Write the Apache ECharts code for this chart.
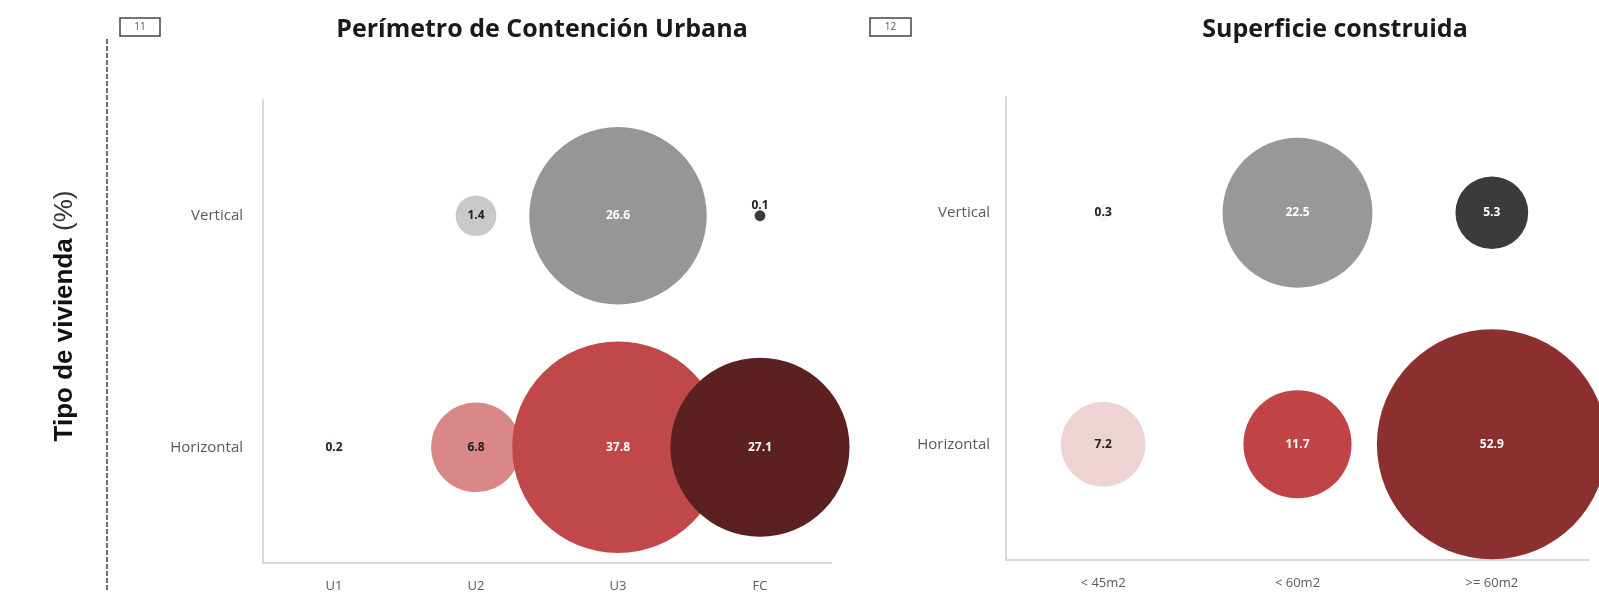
<!DOCTYPE html>
<html>
<head>
<meta charset="utf-8">
<script src="https://cdn.jsdelivr.net/npm/echarts@6/dist/echarts.min.js"></script>
<style>
  html, body { margin: 0; padding: 0; background: #fff; }
  #chart { width: 1599px; height: 597px; }
</style>
</head>
<body>
<div id="chart"></div>
<script>
// Row categories (bottom to top) shared by both panels
const tipoCategories = ['Horizontal', 'Vertical'];

// Panel 11: Perímetro de Contención Urbana
const pcuCategories = ['U1', 'U2', 'U3', 'FC'];
const pcuVertical   = [null, 1.4, 26.6, 0.1];
const pcuHorizontal = [0.2, 6.8, 37.8, 27.1];

// Panel 12: Superficie construida
const supCategories = ['< 45m2', '< 60m2', '>= 60m2'];
const supVertical   = [0.3, 22.5, 5.3];
const supHorizontal = [7.2, 11.7, 52.9];

// Fill colours per bubble
const pcuVerticalColors   = ['#f4f4f4', '#c9c9c9', '#969696', '#3b3b3b'];
const pcuHorizontalColors = ['#fbeeee', '#d98787', '#c0484a', '#5c2021'];
const supVerticalColors   = ['#f6f6f6', '#989898', '#3b3b3b'];
const supHorizontalColors = ['#efd2d4', '#c04446', '#8c2f2f'];
const pcuVerticalText     = ['#222', '#222', '#fff', '#222'];
const pcuHorizontalText   = ['#222', '#222', '#fff', '#fff'];
const supVerticalText     = ['#222', '#fff', '#fff'];
const supHorizontalText   = ['#222', '#fff', '#fff'];

const FONT = '"Open Sans", "Liberation Sans", sans-serif';

function rowData(values, rowIndex) {
  const out = [];
  values.forEach((v, i) => { if (v != null) out.push([i, rowIndex, v]); });
  return out;
}

function bubbleSeries(values, rowIndex, colors, textColors, gridIdx, scale) {
  const idx = [];
  values.forEach((v, i) => { if (v != null) idx.push(i); });
  return {
    type: 'scatter',
    xAxisIndex: gridIdx,
    yAxisIndex: gridIdx,
    clip: false,
    data: rowData(values, rowIndex).map((d, k) => {
      const i = idx[k];
      const tiny = d[2] < 0.15;
      return {
        value: d,
        itemStyle: { color: colors[i], opacity: 1 },
        label: {
          color: textColors[i],
          position: tiny ? 'top' : 'inside',
          distance: tiny ? -1 : 5
        }
      };
    }),
    symbolSize: d => 2 * scale * Math.sqrt(d[2]),
    label: {
      show: true,
      formatter: p => p.value[2].toFixed(1),
      fontFamily: FONT,
      fontWeight: 'bold',
      fontSize: 12
    },
    emphasis: { disabled: true },
    silent: true
  };
}

const axisLine = { show: true, lineStyle: { color: '#d9d9d9', width: 2 } };
const axisLabelStyle = { color: '#595959', fontFamily: FONT };

const chart = echarts.init(document.getElementById('chart'));
chart.setOption({
  backgroundColor: '#fff',
  animation: false,
  grid: [
    { left: 263, top: 100, width: 568, height: 463 },
    { left: 1006, top: 97, width: 583, height: 463 }
  ],
  xAxis: [
    { type: 'category', gridIndex: 0, data: pcuCategories, axisLine: axisLine,
      axisTick: { show: false }, splitLine: { show: false },
      axisLabel: Object.assign({ margin: 17, fontSize: 13 }, axisLabelStyle) },
    { type: 'category', gridIndex: 1, data: supCategories, axisLine: axisLine,
      axisTick: { show: false }, splitLine: { show: false },
      axisLabel: Object.assign({ margin: 17, fontSize: 13 }, axisLabelStyle) }
  ],
  yAxis: [
    { type: 'category', gridIndex: 0, data: tipoCategories, axisLine: axisLine,
      axisTick: { show: false }, splitLine: { show: false },
      axisLabel: Object.assign({ margin: 20, fontSize: 15 }, axisLabelStyle) },
    { type: 'category', gridIndex: 1, data: tipoCategories, axisLine: axisLine,
      axisTick: { show: false }, splitLine: { show: false },
      axisLabel: Object.assign({ margin: 16, fontSize: 15 }, axisLabelStyle) }
  ],
  series: [
    bubbleSeries(pcuVertical, 1, pcuVerticalColors, pcuVerticalText, 0, 17.2),
    bubbleSeries(pcuHorizontal, 0, pcuHorizontalColors, pcuHorizontalText, 0, 17.2),
    bubbleSeries(supVertical, 1, supVerticalColors, supVerticalText, 1, 15.8),
    bubbleSeries(supHorizontal, 0, supHorizontalColors, supHorizontalText, 1, 15.8)
  ],
  title: [
    { text: 'Perímetro de Contención Urbana', left: 537, top: 12, textAlign: 'center',
      textStyle: { fontFamily: FONT, fontWeight: 'bold', fontSize: 25, color: '#1a1a1a' } },
    { text: 'Superficie construida', left: 1330, top: 12, textAlign: 'center',
      textStyle: { fontFamily: FONT, fontWeight: 'bold', fontSize: 25, color: '#1a1a1a' } }
  ],
  graphic: [
    // panel number boxes
    { type: 'rect', shape: { x: 120, y: 18, width: 40, height: 18 },
      style: { fill: '#fff', stroke: '#444', lineWidth: 1.5 } },
    { type: 'text', x: 140, y: 27,
      style: { text: '11', fontFamily: FONT, fontSize: 10, fill: '#555', align: 'center', verticalAlign: 'middle' } },
    { type: 'rect', shape: { x: 870, y: 18, width: 41, height: 18 },
      style: { fill: '#fff', stroke: '#444', lineWidth: 1.5 } },
    { type: 'text', x: 890.5, y: 27,
      style: { text: '12', fontFamily: FONT, fontSize: 10, fill: '#555', align: 'center', verticalAlign: 'middle' } },
    // dashed separator
    { type: 'line', shape: { x1: 107, y1: 39, x2: 107, y2: 592 },
      style: { stroke: '#222', lineWidth: 1.3, lineDash: [5, 2] } },
    // shared row-axis title
    { type: 'text', x: 65, y: 316, rotation: Math.PI / 2,
      style: {
        text: '{b|Tipo de vivienda }{n|(%)}',
        align: 'center', verticalAlign: 'middle',
        rich: {
          b: { fontFamily: '"Liberation Sans", Arial, sans-serif', fontWeight: 'bold', fontSize: 26, fill: '#111' },
          n: { fontFamily: '"Liberation Sans", Arial, sans-serif', fontSize: 26, fill: '#333' }
        }
      } }
  ]
});
</script>
</body>
</html>
